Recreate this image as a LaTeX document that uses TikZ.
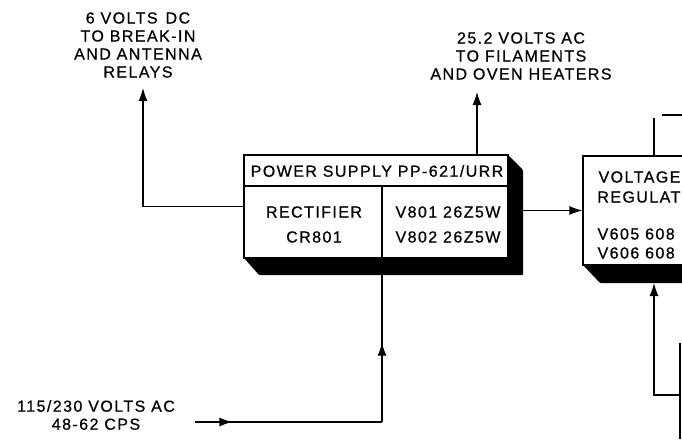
\documentclass[tikz,border=0pt]{standalone}
\usepackage{fontspec}
\setmainfont{Liberation Sans}[LetterSpace=9, FakeBold=0.6]
\usetikzlibrary{arrows.meta,decorations.markings}

\begin{document}
\begin{tikzpicture}[x=1pt, y=-1pt,
    line width=1.2pt,
    box/.style={rectangle, draw, fill=white, inner sep=0pt},
    shade/.style={fill=black, rounded corners=1pt},
    lbl/.style={align=center, font=\fontsize{16}{18}\selectfont, inner sep=0pt},
    txt/.style={font=\fontsize{16}{18}\selectfont, inner sep=0pt},
    arrow/.style={-{Latex[length=13pt,width=9pt]}},
    midarrow/.style={postaction={decorate}, decoration={markings,
        mark=at position #1 with {\arrow{Latex[length=13pt,width=9pt]}}}}
  ]
  \clip (0,0) rectangle (682,439);

  % Power supply block with its shadow
  \fill[shade] (244,258) -- (259,275) -- (523,275) -- (523,170) -- (508,155) -- cycle;
  \node[box, minimum width=264pt, minimum height=103pt] (psbox) at (376,206.5) {};
  \draw (244,186) -- (508,186);
  \draw (382,186) -- (382,258);
  \node[txt] (pstitle) at (377,171) {POWER SUPPLY PP-621/URR};
  \node[txt] (rect) at (314,212) {RECTIFIER};
  \node[txt] (cr) at (314,237) {CR801};
  \node[txt] (vone) at (448,212) {V801 26Z5W};
  \node[txt] (vtwo) at (448,237) {V802 26Z5W};

  % Voltage regulator block (runs off the right edge)
  \fill[shade] (583,265) -- (600,283) -- (800,283) -- (800,265) -- cycle;
  \node[box, minimum width=220pt, minimum height=109pt] (vrbox) at (693,210.5) {};
  \node[txt, anchor=east] (vra) at (681,177) {VOLTAGE};
  \node[txt, anchor=east] (vrb) at (681,197) {REGULAT};
  \node[txt, anchor=west] (vrc) at (597,234) {V605 608};
  \node[txt, anchor=west] (vrd) at (597,253) {V606 608};

  % Outside labels
  \node[lbl] (relays) at (138,45) {6 VOLTS\enspace DC\\TO BREAK-IN\\AND ANTENNA\\RELAYS};
  \node[lbl] (heaters) at (521,56) {25.2 VOLTS AC\\TO FILAMENTS\\AND OVEN HEATERS};
  \node[lbl] (acin) at (96,415) {115/230 VOLTS AC\\48-62 CPS};

  \coordinate (relaytip) at (143,88);
  \coordinate (heatertip) at (477,92);
  \coordinate (acstart) at (195,422);
  \coordinate (acturn) at (382,422);
  \coordinate (psin) at (382,275);
  \coordinate (vrtop) at (654,118);
  \coordinate (outa) at (662,115);
  \coordinate (outb) at (682,115);
  \coordinate (vrin) at (654,283);
  \coordinate (fbturn) at (654,395);
  \coordinate (fbright) at (680,395);
  \coordinate (fbtop) at (680,343);
  \coordinate (fbbot) at (680,439);

  % Connectors
  \draw[arrow] (psbox.west) -| (relaytip);
  \draw[arrow] (psbox.north -| heatertip) -- (heatertip);
  \draw[arrow] (psbox.east |- vrbox.west) -- (vrbox.west);
  \draw[midarrow=0.2] (acstart) -- (acturn);
  \draw[midarrow=0.54] (acturn) -- (psin);
  \draw (vrbox.north -| vrtop) -- (vrtop);
  \draw (outa) -- (outb);
  \draw (fbtop) -- (fbbot);
  \draw[arrow] (fbright) -- (fbturn) -- (vrin);
\end{tikzpicture}
\end{document}
